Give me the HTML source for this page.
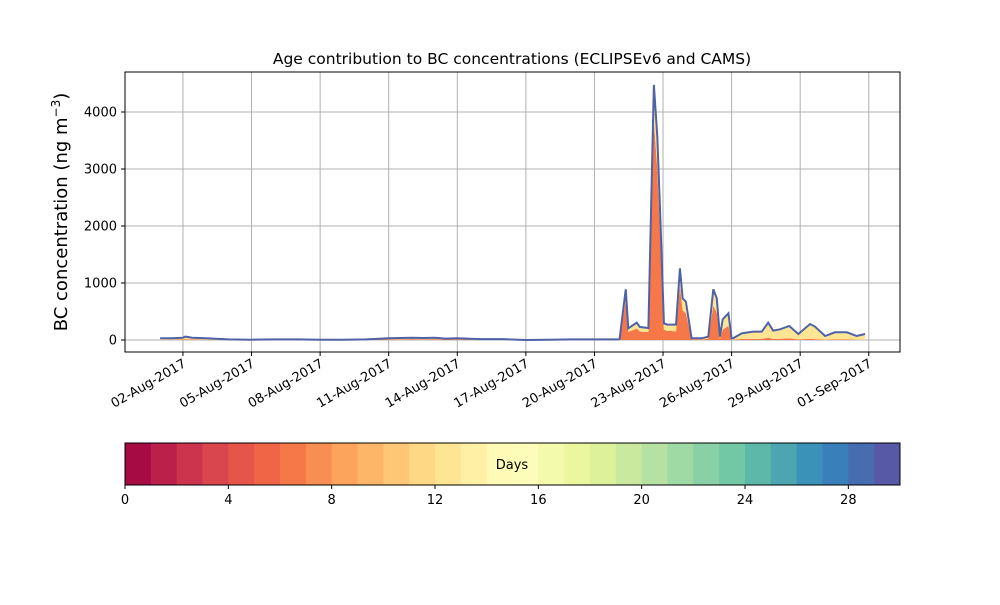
<!DOCTYPE html>
<html><head><meta charset="utf-8"><style>
body{margin:0;background:#fff;font-family:"Liberation Sans","DejaVu Sans",sans-serif}
svg text{font-family:"DejaVu Sans","Liberation Sans",sans-serif}
</style></head><body>
<svg id="c" width="1000" height="600"></svg>
<script>
const days=[0,0.5,1.0,1.1,1.4,2.0,3,4,5,6,7,8,9,10,10.5,11,11.5,12,12.5,13,14,15,16,17,18,19,20,20.1,20.37,20.48,20.85,20.99,21.36,21.46,21.6,21.75,21.87,22.04,22.19,22.37,22.57,22.74,22.86,23.0,23.25,23.69,23.98,24.2,24.35,24.49,24.61,24.86,25.0,25.07,25.44,25.95,26.32,26.6,26.82,27.12,27.52,27.92,28.43,28.65,29.09,29.52,30.04,30.47,30.84];
const totals=[30,30,40,60,40,30,10,5,10,10,5,5,10,30,35,40,35,40,25,30,15,15,0,5,10,10,10,15,890,205,305,228,210,1990,4475,3570,2280,292,270,270,270,1258,730,672,30,30,58,890,735,58,363,468,30,30,117,146,146,304,164,187,246,105,280,234,70,135,135,70,105];
const fresh=[5,5,10,15,10,5,3,2,3,3,2,2,3,10,12,15,12,15,8,10,5,5,0,2,3,3,3,5,700,140,200,150,140,1650,3850,3000,1900,180,160,160,150,950,520,470,10,10,20,600,480,20,180,250,5,5,20,20,20,40,20,20,30,10,20,15,5,10,10,5,5];
const aged=[10,10,10,20,10,10,3,2,3,3,2,2,3,10,10,10,10,12,8,10,5,5,0,2,3,3,3,5,150,50,80,60,55,250,450,400,280,90,90,90,100,250,170,160,15,15,30,250,220,30,160,190,20,20,85,115,115,240,130,150,190,80,230,195,55,110,110,55,90];
const yTicks=[0,1000,2000,3000,4000];
const xTickLabels=["02-Aug-2017","05-Aug-2017","08-Aug-2017","11-Aug-2017","14-Aug-2017","17-Aug-2017","20-Aug-2017","23-Aug-2017","26-Aug-2017","29-Aug-2017","01-Sep-2017"];
const xTickDays=[1,4,7,10,13,16,19,22,25,28,31];
const cbTicks=[0,4,8,12,16,20,24,28];

const svg=document.getElementById('c');const NS='http://www.w3.org/2000/svg';
function el(t,a,p){const e=document.createElementNS(NS,t);for(const k in a)e.setAttribute(k,a[k]);(p||svg).appendChild(e);return e;}
const L=125,R=900,T=72,B=352;
const X=d=>160.1+d*22.86, Y=v=>340-v*0.057;
// spectral
const sp=[[158,1,66],[213,62,79],[244,109,67],[253,174,97],[254,224,139],[255,255,191],[230,245,152],[171,221,164],[102,194,165],[50,136,189],[94,79,162]];
function spec(t){const f=t*10,i=Math.min(9,Math.floor(f)),r=f-i;const a=sp[i],b=sp[i+1];return `rgb(${a.map((v,k)=>Math.round(v+(b[k]-v)*r)).join(',')})`;}
// grid
const g=el('g',{});
yTicks.forEach(v=>{const l=el('line',{x1:L,x2:R,y1:Y(v),y2:Y(v),stroke:'#b0b0b0','stroke-width':1},g);});
xTickDays.forEach(d=>{el('line',{x1:X(d),x2:X(d),y1:T,y2:B,stroke:'#b0b0b0','stroke-width':1},g);});
// stacked areas
function area(lo,hi,color,name){let p='M'+days.map((d,i)=>X(d)+','+Y(hi[i])).join('L');for(let i=days.length-1;i>=0;i--)p+='L'+X(days[i])+','+Y(lo[i]);p+='Z';const e=el('path',{d:p,fill:color});}
const zero=days.map(()=>0);
const s1=fresh.slice();
const s2=fresh.map((v,i)=>v+aged[i]);
area(zero,s1,spec(6.5/30),'fresh-bc-area');
area(s1,s2,spec(12.5/30),'aged-bc-area');
area(s2,totals,spec(18/30),'old-bc-area');
const ln=el('path',{d:'M'+days.map((d,i)=>X(d)+','+Y(totals[i])).join('L'),fill:'none',stroke:'#4f62a8','stroke-width':2});

// axes
el('rect',{x:L,y:T,width:R-L,height:B-T,fill:'none',stroke:'#000','stroke-width':1});
yTicks.forEach(v=>{el('line',{x1:L-4,x2:L,y1:Y(v),y2:Y(v),stroke:'#000'});const t=el('text',{x:L-8,y:Y(v)+4.5,'text-anchor':'end','font-size':13});t.textContent=v;});
xTickDays.forEach((d,i)=>{el('line',{x1:X(d),x2:X(d),y1:B,y2:B+4,stroke:'#000'});const t=el('text',{x:X(d)+4,y:B+14,'text-anchor':'end','font-size':13,transform:`rotate(-30 ${X(d)+4} ${B+14})`});t.textContent=xTickLabels[i];});
let t=el('text',{x:512,y:64,'text-anchor':'middle','font-size':15.5});t.textContent='Age contribution to BC concentrations (ECLIPSEv6 and CAMS)';
t=el('text',{x:0,y:0,'text-anchor':'middle','font-size':18,transform:'translate(67 212) rotate(-90)'});t.innerHTML='BC concentration (ng m<tspan dy="-7" font-size="12">−3</tspan><tspan dy="7">)</tspan>';
// colorbar
const cb=el('g',{});
const cl=125,cr=900,ct=443,cbb=485,w=(cr-cl)/30;
for(let i=0;i<30;i++)el('rect',{x:cl+i*w,y:ct,width:w+0.5,height:cbb-ct,fill:spec((i+0.5)/30)},cb);
el('rect',{x:cl,y:ct,width:cr-cl,height:cbb-ct,fill:'none',stroke:'#000'},cb);
cbTicks.forEach(v=>{const x=cl+v*w;el('line',{x1:x,x2:x,y1:cbb,y2:cbb+4,stroke:'#000'},cb);const tt=el('text',{x:x,y:cbb+19,'text-anchor':'middle','font-size':13},cb);tt.textContent=v;});
t=el('text',{x:512,y:469,'text-anchor':'middle','font-size':13},cb);t.textContent='Days';
</script>
</body></html>
